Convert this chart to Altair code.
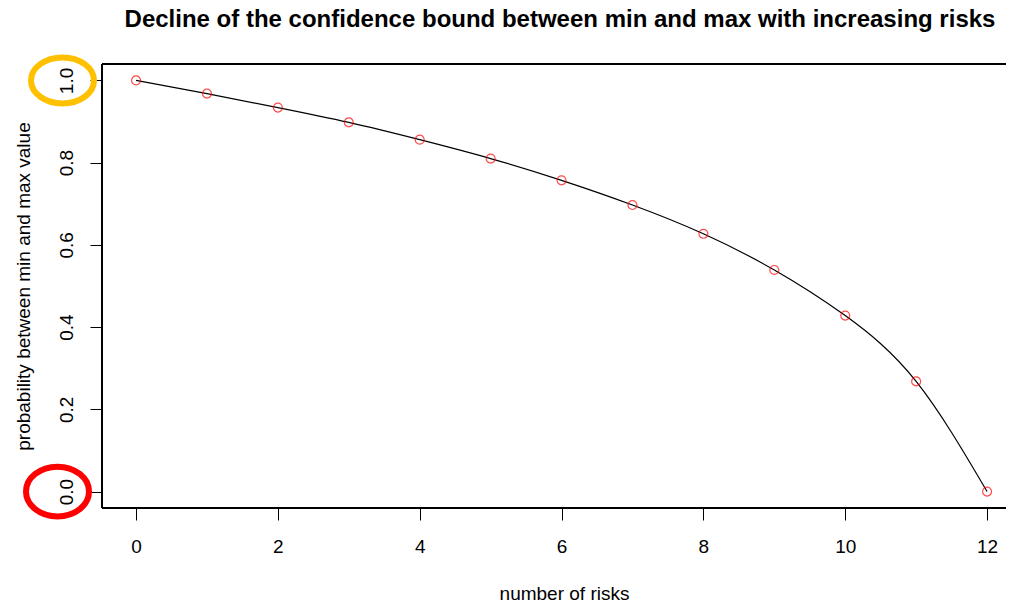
import altair as alt
import pandas as pd

# data
risks = [0, 1, 2, 3, 4, 5, 6, 7, 8, 9, 10, 11, 12]
prob = [1.0, 0.968, 0.934, 0.898, 0.856, 0.810, 0.757, 0.697, 0.627, 0.539, 0.428, 0.268, 0.0]

# highlight ellipses around y tick labels
mark_vals = [1.0, 0.0]
mark_cols = ["#FFC000", "#FF0000"]

x_ticks = [0, 2, 4, 6, 8, 10, 12]
y_ticks = [0.0, 0.2, 0.4, 0.6, 0.8, 1.0]

df = pd.DataFrame({"risks": risks, "prob": prob})

FONT = "Liberation Sans"
W, H = 904, 444

xs = alt.Scale(domain=[-0.48, 12.267], nice=False, zero=False)
ys = alt.Scale(domain=[-0.04, 1.04], nice=False, zero=False)

x_axis = alt.Axis(
    values=x_ticks, format="d", title="number of risks", grid=False, domain=False,
    tickSize=12, tickColor="black", tickWidth=1,
    labelFont=FONT, labelFontSize=19, labelColor="black", labelBaseline="alphabetic",
    labelPadding=32, labelFlush=False,
    titleFont=FONT, titleFontSize=19, titleFontWeight="normal", titleColor="black",
    titleBaseline="alphabetic", titleX=462, titleY=91, titleAnchor="middle",
)
y_axis = alt.Axis(
    values=y_ticks, format=".1f", title="probability between min and max value",
    grid=False, domain=False, tickSize=12, tickColor="black", tickWidth=1,
    labelFont=FONT, labelFontSize=19, labelColor="black", labelAngle=270,
    labelAlign="center", labelBaseline="alphabetic", labelPadding=18, labelFlush=False,
    titleFont=FONT, titleFontSize=19, titleFontWeight="normal", titleColor="black",
    titleAngle=270, titleAlign="center", titleBaseline="alphabetic",
    titleX=-73, titleY=H / 2, titleAnchor="middle",
)

base = alt.Chart(df)

line = base.mark_line(color="black", strokeWidth=1.2, interpolate="natural").encode(
    x=alt.X("risks:Q", scale=xs, axis=x_axis),
    y=alt.Y("prob:Q", scale=ys, axis=y_axis),
)

pts = base.mark_point(shape="circle", filled=False, color="#FF0000", size=80, strokeWidth=1.2).encode(
    x=alt.X("risks:Q", scale=xs),
    y=alt.Y("prob:Q", scale=ys),
)

# plot frame (open at the right, as in the cropped reference)
frame_top = base.mark_rule(color="black", strokeWidth=1.2).encode(
    x=alt.value(0), x2=alt.value(W), y=alt.value(0))
frame_bottom = base.mark_rule(color="black", strokeWidth=1.2).encode(
    x=alt.value(0), x2=alt.value(W), y=alt.value(H))
frame_left = base.mark_rule(color="black", strokeWidth=1.2).encode(
    x=alt.value(0), y=alt.value(0), y2=alt.value(H))

ell_df = pd.DataFrame({"v": mark_vals, "c": mark_cols})
ellipse_top = alt.Chart(ell_df.iloc[[0]]).mark_point(
    shape="M -1 0 A 1 0.73 0 1 1 1 0 A 1 0.73 0 1 1 -1 0 Z",
    filled=False, size=3969, strokeWidth=6, color=mark_cols[0], opacity=1,
).encode(x=alt.value(-39.5), y=alt.Y("v:Q", scale=ys))
ellipse_bot = alt.Chart(ell_df.iloc[[1]]).mark_point(
    shape="M -1 0 A 1 0.79 0 1 1 1 0 A 1 0.79 0 1 1 -1 0 Z",
    filled=False, size=3969, strokeWidth=6, color=mark_cols[1], opacity=1,
).encode(x=alt.value(-44.5), y=alt.Y("v:Q", scale=ys))

chart = alt.layer(frame_top, frame_bottom, frame_left, line, pts, ellipse_top, ellipse_bot).properties(
    width=W, height=H,
    title=alt.TitleParams(
        "Decline of the confidence bound between min and max with increasing risks",
        font=FONT, fontSize=24, fontWeight="bold", color="black",
        anchor="middle", frame="group", offset=13, dx=6,
    ),
    autosize=alt.AutoSizeParams(type="none"),
    padding={"left": 94, "top": 56, "right": 0, "bottom": 94},
).configure(background="white").configure_view(stroke=None)

chart.save("out.html", embed_options={"renderer": "svg", "actions": False})
